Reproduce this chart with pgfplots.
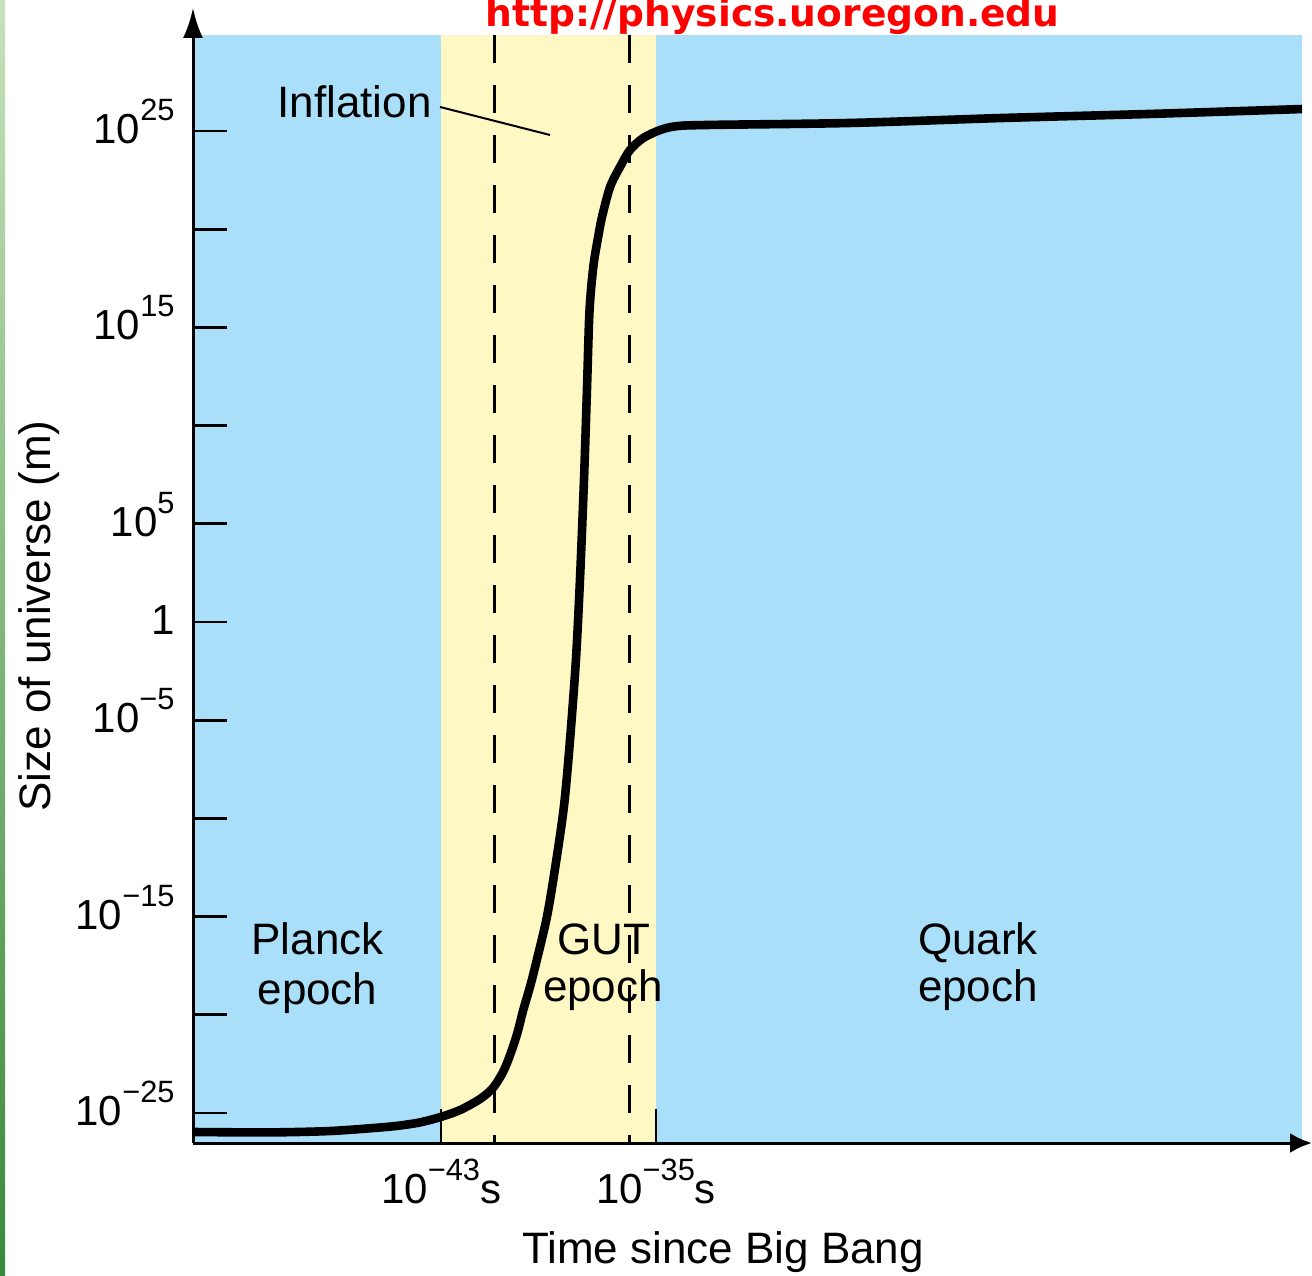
\documentclass[border=0pt]{standalone}
\usepackage{fontspec}
\setmainfont{Liberation Sans}
\newfontfamily\urlfont{DejaVu Sans}
\usepackage{pgfplots}
\pgfplotsset{compat=1.18}
\usetikzlibrary{arrows.meta}

\definecolor{skyband}{RGB}{170,223,249}
\definecolor{gutband}{RGB}{253,248,196}
\definecolor{slidegreenlight}{RGB}{198,226,188}
\definecolor{slidegreendark}{RGB}{58,138,58}

% power-of-ten label: 10 with a raised exponent
\newcommand\tk[1]{10\raisebox{11.5pt}{\fontsize{15.4}{15.4}\selectfont #1}}
\newcommand\lbl{\fontsize{22}{25}\selectfont}

\begin{document}
\begin{tikzpicture}
\useasboundingbox (0pt,0pt) rectangle (656pt,637.5pt);
\shade[top color=slidegreenlight, bottom color=slidegreendark] (0pt,0pt) rectangle (2.5pt,637.5pt);

\begin{axis}[
  at={(96.5pt,66pt)}, anchor=south west,
  scale only axis, width=554.5pt, height=554pt,
  xmin=-52.23, xmax=-10.96, ymin=-26.53, ymax=29.89,
  axis lines=left,
  axis on top,
  axis line style={line width=1.5pt, black},
  x axis line style={-{Latex[length=11pt,width=10pt]}, shorten >=-5pt},
  y axis line style={-{Latex[length=15pt,width=10pt]}, shorten >=-13.5pt},
  axis background/.style={fill=skyband},
  xtick={-43,-35},
  xticklabels={\tk{−43}s, \tk{−35}s},
  ytick={-25,-20,...,25},
  yticklabels={\tk{−25},{},\tk{−15},{},\tk{−5},1,\tk{5},{},\tk{15},{},\tk{25}},
  tick align=inside,
  major tick length=17pt,
  tick style={line width=1.4pt, black},
  ticklabel style={font=\fontsize{21}{21}\selectfont},
  yticklabel style={anchor=base east, inner sep=0pt, xshift=-9pt, yshift=-6.25pt},
  xticklabel style={anchor=base, inner sep=0pt, yshift=-30pt},
]
% GUT epoch band
\addplot[fill=gutband, draw=none] coordinates {(-43,-26.53) (-35,-26.53) (-35,29.89) (-43,29.89)} -- cycle;
% reference times
\addplot[black, line width=1.4pt, dash pattern=on 14pt off 11pt] coordinates {(-41,29.89) (-41,-26.53)};
\addplot[black, line width=1.4pt, dash pattern=on 14pt off 11pt] coordinates {(-36,29.89) (-36,-26.53)};
% size of the universe (log10 m) against log10 of time (s)
\addplot[black, line width=4.3pt, smooth, tension=0.5, line join=round] coordinates {
(-52.23,-25.97) (-49.36,-25.99) (-47.13,-25.92) (-45.27,-25.74) (-44.53,-25.64)
(-43.78,-25.48) (-43.00,-25.20) (-42.29,-24.85) (-41.55,-24.29) (-41.07,-23.73)
(-40.69,-22.91) (-40.43,-22.05) (-40.17,-20.98) (-39.95,-19.81) (-39.69,-18.58)
(-39.50,-17.57) (-39.06,-15.02) (-38.72,-12.22) (-38.42,-9.32) (-38.20,-6.01)
(-37.98,-1.93) (-37.83,2.14) (-37.68,7.23) (-37.57,11.81) (-37.49,15.38)
(-37.42,16.90) (-37.31,18.33) (-37.16,19.55) (-37.01,20.62) (-36.71,22.15)
(-36.34,23.17) (-35.97,24.03) (-35.48,24.64) (-34.85,25.05) (-34.22,25.25)
(-32.99,25.31) (-27.78,25.41) (-22.20,25.66) (-16.62,25.87) (-10.96,26.12)
};
\end{axis}

\begin{scope}[x=0.5pt,y=0.5pt]
% annotations
\node[anchor=base west, inner sep=0pt, font=\lbl] at (277,1157) {Inflation};
\draw[black, line width=1pt] (440,1168) -- (550,1140);

\node[anchor=base, inner sep=0pt, font=\lbl] at (317.5,320) {Planck};
\node[anchor=base, inner sep=0pt, font=\lbl] at (317.5,270) {epoch};
\node[anchor=base, inner sep=0pt, font=\lbl] at (604,320) {GUT};
\node[anchor=base, inner sep=0pt, font=\lbl] at (603,273) {epoch};
\node[anchor=base, inner sep=0pt, font=\lbl] at (978,320) {Quark};
\node[anchor=base, inner sep=0pt, font=\lbl] at (978,273) {epoch};

\node[anchor=base, inner sep=0pt, font=\lbl] at (723,12) {Time since Big Bang};
\node[anchor=base, inner sep=0pt, rotate=90, font=\lbl] at (50,659) {Size of universe (m)};

\node[anchor=base west, inner sep=0pt, text=red, font=\urlfont\bfseries\fontsize{18.8}{18.8}\selectfont] at (485,1248) {http://physics.uoregon.edu};
\end{scope}
\end{tikzpicture}
\end{document}
